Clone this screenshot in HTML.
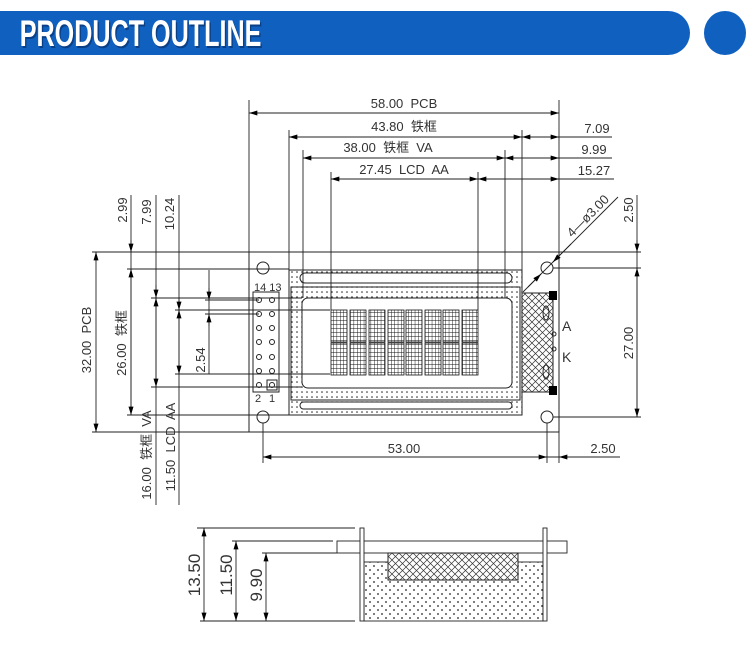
<!DOCTYPE html>
<html><head><meta charset="utf-8"><style>
html,body{margin:0;padding:0;background:#fff;width:750px;height:654px;overflow:hidden}
svg{display:block}
text{font-family:"Liberation Sans","Noto Sans CJK SC",sans-serif;font-size:13px;fill:#333}
</style></head><body>
<svg width="750" height="654" viewBox="0 0 750 654" xmlns="http://www.w3.org/2000/svg">
<defs>
<marker id="a" viewBox="0 0 10 6" refX="10" refY="3" markerWidth="10" markerHeight="5" markerUnits="userSpaceOnUse" orient="auto-start-reverse"><path d="M0,0L10,3L0,6z" fill="#000"/></marker>
<pattern id="dots" width="5" height="5" patternUnits="userSpaceOnUse"><circle cx="2" cy="2" r="0.8" fill="#222"/></pattern>
<pattern id="dots2" width="8" height="8" patternUnits="userSpaceOnUse"><circle cx="2" cy="2" r="0.9" fill="#222"/><circle cx="6" cy="6" r="0.9" fill="#222"/></pattern>
<pattern id="hatch" width="7" height="7" patternUnits="userSpaceOnUse"><path d="M0,0L7,7M7,0L0,7" stroke="#333" stroke-width="0.7"/></pattern>
<pattern id="grid" width="3.4" height="4" patternUnits="userSpaceOnUse"><rect width="3.4" height="4" fill="#fff"/><path d="M0,0V4M0,0H3.4" stroke="#111" stroke-width="0.9"/></pattern>
</defs>

<!-- header -->
<path d="M0,11H668A22,22 0 0 1 668,55H0Z" fill="#1060c0"/>
<ellipse cx="725" cy="33" rx="21" ry="22" fill="#1060c0"/>
<g transform="scale(0.68,1)">
<text x="31" y="48" style="font-family:'Liberation Sans',sans-serif;font-size:37px;font-weight:bold;fill:#0a3f85">PRODUCT OUTLINE</text>
<text x="29" y="46" style="font-family:'Liberation Sans',sans-serif;font-size:37px;font-weight:bold;fill:#fff">PRODUCT OUTLINE</text>
</g>

<g stroke="#222" stroke-width="1" fill="none">
<rect x="249" y="252" width="310" height="180"/>
<circle cx="263" cy="268" r="6"/><circle cx="547" cy="268" r="6"/>
<circle cx="263" cy="417" r="6"/><circle cx="547" cy="417" r="6"/>
<rect x="289" y="270" width="233" height="145" fill="url(#dots)"/>
<rect x="291" y="287" width="229" height="113"/>
<rect x="300" y="273" width="212" height="10" rx="5" fill="#fff"/>
<rect x="300" y="402" width="212" height="7" rx="3.5" fill="#fff"/>
<rect x="302" y="298" width="210" height="90" rx="6" fill="#fff"/>
<rect x="522" y="293" width="31" height="99" fill="url(#hatch)"/>
<ellipse cx="546" cy="313" rx="3" ry="7"/><ellipse cx="546" cy="372" rx="3" ry="7"/>
<circle cx="554" cy="334" r="2"/><circle cx="554" cy="349" r="2"/>
<rect x="253" y="292" width="26" height="100"/>
<circle cx="259" cy="300" r="2.5"/><circle cx="272" cy="300" r="2.5"/>
<circle cx="259" cy="314" r="2.5"/><circle cx="272" cy="314" r="2.5"/>
<circle cx="259" cy="328" r="2.5"/><circle cx="272" cy="328" r="2.5"/>
<circle cx="259" cy="342" r="2.5"/><circle cx="272" cy="342" r="2.5"/>
<circle cx="259" cy="357" r="2.5"/><circle cx="272" cy="357" r="2.5"/>
<circle cx="259" cy="371" r="2.5"/><circle cx="272" cy="371" r="2.5"/>
<circle cx="259" cy="385" r="2.5"/><circle cx="272" cy="385" r="2.5"/>
<rect x="267" y="380" width="10" height="10"/>
</g>
<rect x="549" y="291" width="8" height="9" fill="#000"/>
<rect x="549" y="386" width="8" height="9" fill="#000"/>
<text x="562" y="331" style="font-size:14px">A</text>
<text x="562" y="362" style="font-size:14px">K</text>
<text x="254" y="291" style="font-size:11px">14 13</text>
<text x="255" y="402" style="font-size:11px">2</text><text x="269" y="402" style="font-size:11px">1</text>

<g stroke="#111" stroke-width="0.8" fill="url(#grid)">
<rect x="331" y="310" width="16" height="32"/><rect x="331" y="343" width="16" height="32"/>
<rect x="350" y="310" width="16" height="32"/><rect x="350" y="343" width="16" height="32"/>
<rect x="369" y="310" width="16" height="32"/><rect x="369" y="343" width="16" height="32"/>
<rect x="388" y="310" width="16" height="32"/><rect x="388" y="343" width="16" height="32"/>
<rect x="406" y="310" width="16" height="32"/><rect x="406" y="343" width="16" height="32"/>
<rect x="425" y="310" width="16" height="32"/><rect x="425" y="343" width="16" height="32"/>
<rect x="443" y="310" width="16" height="32"/><rect x="443" y="343" width="16" height="32"/>
<rect x="462" y="310" width="16" height="32"/><rect x="462" y="343" width="16" height="32"/>
</g>

<g stroke="#222" stroke-width="0.9" fill="none">
<path d="M249,100V252M559,100V252M289,130V270M522,130V270M303,150V298M505,150V298M331,172V310M478,172V310"/>
<line x1="249" y1="113" x2="559" y2="113" marker-start="url(#a)" marker-end="url(#a)"/>
<line x1="289" y1="137" x2="522" y2="137" marker-start="url(#a)" marker-end="url(#a)"/>
<line x1="522" y1="137" x2="612" y2="137"/>
<line x1="536" y1="137" x2="522" y2="137" marker-end="url(#a)"/>
<line x1="545" y1="137" x2="559" y2="137" marker-end="url(#a)"/>
<line x1="303" y1="158" x2="505" y2="158" marker-start="url(#a)" marker-end="url(#a)"/>
<line x1="505" y1="158" x2="612" y2="158"/>
<line x1="519" y1="158" x2="505" y2="158" marker-end="url(#a)"/>
<line x1="545" y1="158" x2="559" y2="158" marker-end="url(#a)"/>
<line x1="331" y1="179" x2="478" y2="179" marker-start="url(#a)" marker-end="url(#a)"/>
<line x1="478" y1="179" x2="614" y2="179"/>
<line x1="492" y1="179" x2="478" y2="179" marker-end="url(#a)"/>
<line x1="545" y1="179" x2="559" y2="179" marker-end="url(#a)"/>

<path d="M92,252H249M92,432H249M127,269H289M127,415H289M151,298H302M151,387H302M175,310H330M175,374H330M205,300H259M205,314H259"/>
<line x1="96" y1="252" x2="96" y2="432" marker-start="url(#a)" marker-end="url(#a)"/>
<line x1="131" y1="195" x2="131" y2="415"/>
<line x1="131" y1="240" x2="131" y2="252" marker-end="url(#a)"/>
<line x1="131" y1="269" x2="131" y2="415" marker-start="url(#a)" marker-end="url(#a)"/>
<line x1="156" y1="195" x2="156" y2="505"/>
<line x1="156" y1="285" x2="156" y2="298" marker-end="url(#a)"/>
<line x1="156" y1="298" x2="156" y2="387" marker-start="url(#a)" marker-end="url(#a)"/>
<line x1="179" y1="195" x2="179" y2="505"/>
<line x1="179" y1="297" x2="179" y2="310" marker-end="url(#a)"/>
<line x1="179" y1="310" x2="179" y2="374" marker-start="url(#a)" marker-end="url(#a)"/>
<line x1="209" y1="270" x2="209" y2="374"/>
<line x1="209" y1="288" x2="209" y2="300" marker-end="url(#a)"/>
<line x1="209" y1="326" x2="209" y2="314" marker-end="url(#a)"/>

<path d="M559,252H641M553,268H641M553,417H641"/>
<line x1="637" y1="195" x2="637" y2="417"/>
<line x1="637" y1="240" x2="637" y2="252" marker-end="url(#a)"/>
<line x1="637" y1="268" x2="637" y2="417" marker-start="url(#a)" marker-end="url(#a)"/>
<line x1="618" y1="197" x2="528" y2="287"/>
<line x1="571" y1="244" x2="553" y2="262" marker-end="url(#a)"/>
<line x1="523" y1="292" x2="541" y2="274" marker-end="url(#a)"/>

<path d="M263,423V463M547,423V463M559,432V463"/>
<line x1="263" y1="457" x2="547" y2="457" marker-start="url(#a)" marker-end="url(#a)"/>
<line x1="547" y1="457" x2="620" y2="457"/>
<line x1="573" y1="457" x2="559" y2="457" marker-end="url(#a)"/>
</g>

<text x="404" y="108" text-anchor="middle">58.00&#160; PCB</text>
<text x="404" y="131" text-anchor="middle">43.80&#160; 铁框</text>
<text x="388" y="152" text-anchor="middle">38.00&#160; 铁框&#160; VA</text>
<text x="404" y="174" text-anchor="middle">27.45&#160; LCD&#160; AA</text>
<text x="597" y="133" text-anchor="middle">7.09</text>
<text x="594" y="154" text-anchor="middle">9.99</text>
<text x="594" y="175" text-anchor="middle">15.27</text>
<text transform="translate(91,340) rotate(-90)" text-anchor="middle">32.00&#160; PCB</text>
<text transform="translate(126,343) rotate(-90)" text-anchor="middle">26.00&#160; 铁框</text>
<text transform="translate(127,210) rotate(-90)" text-anchor="middle">2.99</text>
<text transform="translate(151,212) rotate(-90)" text-anchor="middle">7.99</text>
<text transform="translate(174,214) rotate(-90)" text-anchor="middle">10.24</text>
<text transform="translate(151,455) rotate(-90)" text-anchor="middle">16.00&#160; 铁框&#160; VA</text>
<text transform="translate(175,447) rotate(-90)" text-anchor="middle">11.50&#160; LCD&#160; AA</text>
<text transform="translate(205,360) rotate(-90)" text-anchor="middle">2.54</text>
<text transform="translate(633,210) rotate(-90)" text-anchor="middle">2.50</text>
<text transform="translate(633,343) rotate(-90)" text-anchor="middle">27.00</text>
<text transform="translate(591,219) rotate(-45)" text-anchor="middle">4—ø3.00</text>
<text x="404" y="453" text-anchor="middle">53.00</text>
<text x="603" y="453" text-anchor="middle">2.50</text>

<g stroke="#222" stroke-width="0.9" fill="none">
<path d="M197,528H355M232,541H333M262,553H337M200,621H355"/>
<line x1="204" y1="528" x2="204" y2="621" marker-start="url(#a)" marker-end="url(#a)"/>
<line x1="236" y1="541" x2="236" y2="621" marker-start="url(#a)" marker-end="url(#a)"/>
<line x1="266" y1="553" x2="266" y2="621" marker-start="url(#a)" marker-end="url(#a)"/>
<rect x="364" y="562" width="179" height="59" fill="url(#dots2)"/>
<rect x="337" y="541" width="230" height="12" fill="#fff"/>
<rect x="360" y="528" width="4" height="93" fill="#fff"/>
<rect x="543" y="528" width="4" height="93" fill="#fff"/>
<rect x="388" y="553" width="130" height="27" fill="#fff"/>
<rect x="388" y="553" width="130" height="27" fill="url(#hatch)"/>
</g>
<text transform="translate(200,575) rotate(-90)" text-anchor="middle" style="font-size:17px">13.50</text>
<text transform="translate(232,575) rotate(-90)" text-anchor="middle" style="font-size:17px">11.50</text>
<text transform="translate(262,585) rotate(-90)" text-anchor="middle" style="font-size:17px">9.90</text>
</svg>
</body></html>
